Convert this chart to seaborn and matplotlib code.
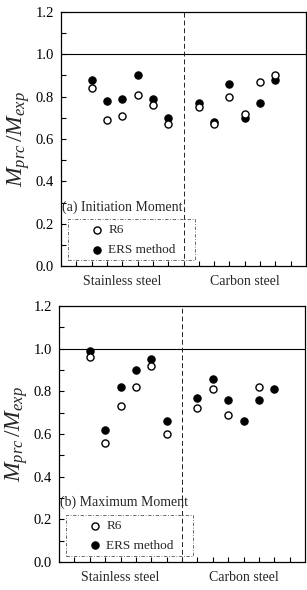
import numpy as np
import pandas as pd
import matplotlib
matplotlib.use("Agg")
import matplotlib.pyplot as plt
from matplotlib.patches import Rectangle
import seaborn as sns

# ---------------- data ----------------
groups = ["Stainless steel", "Carbon steel"]
methods = ["R6", "ERS method"]

# (a) Initiation moment
init_r6_stainless = [0.84, 0.69, 0.71, 0.81, 0.76, 0.67]
init_r6_carbon = [0.75, 0.67, 0.80, 0.72, 0.87, 0.90]
init_ers_stainless = [0.88, 0.78, 0.79, 0.90, 0.79, 0.70]
init_ers_carbon = [0.77, 0.68, 0.86, 0.70, 0.77, 0.88]

# (b) Maximum moment
max_r6_stainless = [0.96, 0.56, 0.73, 0.82, 0.92, 0.60]
max_r6_carbon = [0.72, 0.81, 0.69, np.nan, 0.82, np.nan]
max_ers_stainless = [0.99, 0.62, 0.82, 0.90, 0.95, 0.66]
max_ers_carbon = [0.77, 0.86, 0.76, 0.66, 0.76, 0.81]

panel_titles = ["(a) Initiation Moment", "(b) Maximum Moment"]
yticks = [0.0, 0.2, 0.4, 0.6, 0.8, 1.0, 1.2]

# ---------------- style ----------------
sns.set_theme(style="ticks")
plt.rcParams["font.family"] = ["Liberation Serif", "DejaVu Serif"]
plt.rcParams["mathtext.fontset"] = "custom"
plt.rcParams["mathtext.rm"] = "Liberation Serif"
plt.rcParams["mathtext.it"] = "Liberation Serif:italic"
plt.rcParams["mathtext.bf"] = "Liberation Serif:bold"


def build_frame(r6_s, r6_c, ers_s, ers_c):
    rows = []
    n = len(r6_s)
    for gi, (g, r6, ers) in enumerate(zip(groups, [r6_s, r6_c], [ers_s, ers_c])):
        start = 2 if gi == 0 else n + 3
        for i in range(n):
            rows.append({"group": g, "x": start + i, "method": methods[0], "value": r6[i]})
            rows.append({"group": g, "x": start + i, "method": methods[1], "value": ers[i]})
    return pd.DataFrame(rows)


frames = [
    build_frame(init_r6_stainless, init_r6_carbon, init_ers_stainless, init_ers_carbon),
    build_frame(max_r6_stainless, max_r6_carbon, max_ers_stainless, max_ers_carbon),
]

fig = plt.figure(figsize=(3.07, 5.90), dpi=100)
ax_a = fig.add_axes([61 / 307, 1 - 266 / 590, 245 / 307, 254 / 590])
ax_b = fig.add_axes([59 / 307, 1 - 562 / 590, 246 / 307, 256 / 590])

for ax, df, title in zip([ax_a, ax_b], frames, panel_titles):
    ers = df[df["method"] == methods[1]]
    r6 = df[df["method"] == methods[0]].dropna()
    sns.scatterplot(data=ers, x="x", y="value", ax=ax, color="black",
                    edgecolor="black", linewidth=0.8, s=28, marker="o",
                    label=methods[1], zorder=3)
    sns.scatterplot(data=r6, x="x", y="value", ax=ax, color="white",
                    edgecolor="black", linewidth=1.0, s=26, marker="o",
                    label=methods[0], zorder=4)

    ax.set_xlim(0, 16)
    ax.set_ylim(0, 1.2)
    ax.axhline(1.0, color="black", lw=0.8, zorder=1)
    ax.axvline(8, color="#222222", lw=0.7, ls=(0, (5, 3)), zorder=1)

    ax.set_yticks(yticks)
    ax.set_yticklabels([f"{v:.1f}" for v in yticks], fontsize=10.5)
    ax.set_yticks(np.arange(0.1, 1.2, 0.2), minor=True)
    ax.set_xticks(np.arange(1, 16))
    ax.set_xticklabels([])
    ax.tick_params(axis="both", which="both", direction="in", length=3.5,
                   width=0.8, colors="black", pad=4)
    ax.tick_params(axis="y", which="major", pad=5)
    for sp in ax.spines.values():
        sp.set_visible(True)
        sp.set_linewidth(0.9)
        sp.set_color("black")

    ax.set_xlabel("")
    ax.set_ylabel(r"$M_{prc}\,/M_{exp}$", fontsize=17, labelpad=3)

    # group labels below the axis
    for gi, g in enumerate(groups):
        xc = 4 if gi == 0 else 12
        ax.annotate(g, xy=(xc, 0), xycoords=("data", "axes fraction"),
                    xytext=(0, -11.5), textcoords="offset points",
                    ha="center", va="center", fontsize=10)

    ax.text(0.005, 0.232, title, fontsize=10, ha="left", va="center",
            transform=ax.transAxes)

    # legend (frameless) plus a dash-dot frame drawn as a patch
    handles, labels = ax.get_legend_handles_labels()
    order = [labels.index(m) for m in methods]
    ax.legend([handles[i] for i in order], [labels[i] for i in order],
              loc="upper left", bbox_to_anchor=(0.12, 0.165),
              fontsize=9.5, frameon=False, borderpad=0, borderaxespad=0,
              handletextpad=0.35, labelspacing=0.57, handlelength=1.0)
    ax.add_patch(Rectangle((0.03, 0.024), 0.515, 0.161, transform=ax.transAxes,
                           fill=False, edgecolor="#555555", lw=0.6,
                           ls=(0, (4, 2, 1, 2)), zorder=5, clip_on=False))

fig.savefig("out.png", dpi=100)
